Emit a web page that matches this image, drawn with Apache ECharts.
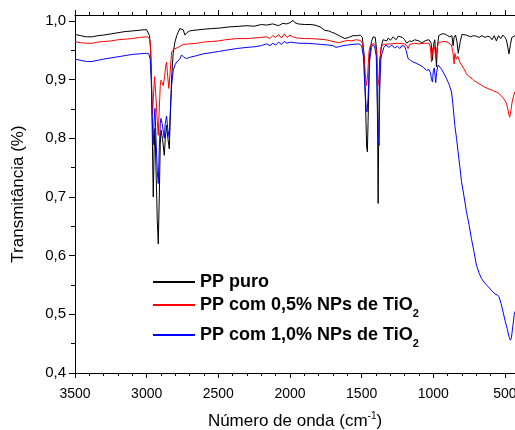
<!DOCTYPE html>
<html>
<head>
<meta charset="utf-8">
<script src="https://cdn.jsdelivr.net/npm/echarts@6/dist/echarts.min.js"></script>
<style>
  html, body { margin: 0; padding: 0; background: #fff; }
  #chart { width: 515px; height: 430px; }
</style>
</head>
<body>
<div id="chart"></div>
<script>
// [número de onda (cm-1), transmitância]
const ppPuro = [
  [3500,0.977],[3460,0.975],[3420,0.973],[3380,0.973],[3340,0.975],[3300,0.976],[3250,0.978],[3200,0.980],
  [3150,0.982],[3100,0.983],[3060,0.984],[3020,0.985],[3000,0.985],[2990,0.983],[2980,0.975],[2972,0.95],
  [2965,0.88],[2958,0.76],[2954,0.70],[2948,0.78],[2942,0.817],[2935,0.75],[2926,0.66],[2919,0.62],
  [2912,0.70],[2905,0.79],[2900,0.814],[2890,0.80],[2877,0.771],[2870,0.80],[2861,0.822],[2852,0.80],
  [2842,0.782],[2836,0.83],[2826,0.902],[2815,0.945],[2803,0.964],[2790,0.975],[2780,0.981],[2768,0.987],
  [2756,0.990],[2745,0.985],[2733,0.976],[2720,0.980],[2700,0.983],[2675,0.984],[2600,0.986],[2550,0.987],
  [2489,0.988],[2420,0.990],[2350,0.991],[2300,0.992],[2250,0.991],[2200,0.994],[2163,0.993],[2120,0.995],
  [2080,0.992],[2050,0.996],[2024,0.995],[2000,0.997],[1990,0.999],[1978,1.001],[1965,0.997],[1943,0.995],
  [1900,0.994],[1860,0.994],[1826,0.993],[1790,0.990],[1757,0.984],[1730,0.983],[1710,0.981],[1680,0.978],
  [1650,0.974],[1617,0.970],[1590,0.972],[1560,0.975],[1530,0.975],[1510,0.976],[1495,0.972],[1482,0.94],
  [1472,0.85],[1465,0.785],[1460,0.777],[1455,0.83],[1445,0.94],[1432,0.965],[1420,0.973],[1405,0.972],
  [1395,0.95],[1388,0.80],[1385,0.689],[1381,0.80],[1375,0.93],[1361,0.959],[1350,0.968],[1338,0.970],
  [1325,0.966],[1315,0.971],[1300,0.967],[1280,0.973],[1260,0.968],[1245,0.974],[1234,0.973],[1215,0.972],
  [1200,0.968],[1185,0.962],[1176,0.959],[1166,0.966],[1150,0.965],[1130,0.968],[1100,0.966],[1080,0.963],
  [1071,0.964],[1050,0.967],[1030,0.968],[1015,0.962],[1006,0.933],[998,0.960],[990,0.968],[983,0.945],
  [978,0.922],[972,0.955],[962,0.975],[955,0.977],[940,0.978],[920,0.978],[900,0.975],[885,0.973],
  [870,0.975],[862,0.958],[855,0.972],[845,0.976],[835,0.965],[826,0.945],[820,0.942],[812,0.965],
  [800,0.977],[792,0.978],[770,0.976],[740,0.973],[720,0.975],[699,0.974],[680,0.972],[660,0.975],
  [640,0.972],[620,0.974],[606,0.973],[590,0.968],[575,0.975],[560,0.966],[545,0.975],[530,0.970],
  [515,0.976],[500,0.972],[490,0.968],[480,0.955],[472,0.944],[462,0.96],[452,0.972],[444,0.97],[430,0.975]
];

const ppTio05 = [
  [3500,0.965],[3460,0.963],[3420,0.962],[3380,0.962],[3340,0.964],[3300,0.965],[3250,0.966],[3200,0.968],
  [3150,0.969],[3100,0.970],[3050,0.972],[3000,0.973],[2985,0.972],[2975,0.965],[2968,0.92],[2963,0.87],
  [2959,0.84],[2953,0.87],[2945,0.905],[2942,0.907],[2935,0.87],[2926,0.83],[2919,0.805],[2912,0.85],
  [2905,0.89],[2900,0.899],[2892,0.895],[2884,0.89],[2875,0.905],[2866,0.925],[2861,0.93],[2853,0.905],
  [2845,0.885],[2837,0.91],[2826,0.947],[2810,0.952],[2800,0.952],[2780,0.955],[2760,0.958],[2745,0.960],
  [2700,0.961],[2650,0.962],[2605,0.964],[2550,0.965],[2500,0.966],[2450,0.968],[2373,0.970],[2300,0.970],
  [2250,0.971],[2200,0.972],[2163,0.973],[2140,0.970],[2120,0.975],[2100,0.972],[2080,0.977],[2060,0.971],
  [2040,0.978],[2020,0.972],[2000,0.976],[1980,0.973],[1950,0.971],[1900,0.970],[1850,0.970],[1800,0.969],
  [1750,0.968],[1700,0.965],[1687,0.964],[1660,0.963],[1630,0.965],[1600,0.967],[1570,0.966],[1540,0.968],
  [1510,0.967],[1495,0.962],[1485,0.945],[1475,0.91],[1466,0.89],[1458,0.91],[1448,0.95],[1435,0.960],
  [1420,0.961],[1405,0.960],[1395,0.945],[1385,0.90],[1378,0.89],[1372,0.93],[1365,0.955],[1350,0.960],
  [1300,0.961],[1250,0.962],[1200,0.961],[1185,0.958],[1176,0.953],[1165,0.960],[1130,0.962],[1100,0.961],
  [1060,0.962],[1030,0.962],[1020,0.955],[1013,0.930],[1005,0.952],[995,0.958],[988,0.950],[983,0.936],
  [976,0.950],[965,0.963],[955,0.964],[930,0.965],[910,0.965],[890,0.962],[873,0.959],[862,0.945],
  [855,0.927],[850,0.945],[840,0.935],[830,0.940],[815,0.930],[800,0.924],[785,0.918],[769,0.910],
  [750,0.905],[730,0.902],[715,0.898],[699,0.896],[680,0.893],[660,0.890],[640,0.887],[629,0.886],
  [610,0.884],[590,0.882],[575,0.880],[559,0.879],[540,0.876],[525,0.872],[510,0.868],[500,0.866],
  [490,0.86],[480,0.850],[472,0.840],[467,0.836],[460,0.845],[450,0.862],[440,0.872],[430,0.880]
];

const ppTio10 = [
  [3500,0.935],[3460,0.933],[3420,0.931],[3380,0.931],[3340,0.933],[3300,0.935],[3250,0.937],[3200,0.939],
  [3150,0.941],[3100,0.943],[3050,0.944],[3000,0.945],[2985,0.944],[2975,0.935],[2968,0.90],[2962,0.84],
  [2956,0.80],[2954,0.789],[2948,0.83],[2942,0.851],[2935,0.80],[2926,0.745],[2919,0.723],[2912,0.78],
  [2905,0.825],[2900,0.834],[2892,0.825],[2884,0.822],[2877,0.80],[2870,0.825],[2861,0.838],[2852,0.815],
  [2842,0.80],[2836,0.84],[2826,0.89],[2815,0.915],[2803,0.925],[2790,0.930],[2770,0.935],[2756,0.942],
  [2740,0.938],[2722,0.936],[2700,0.938],[2650,0.941],[2605,0.944],[2550,0.946],[2500,0.948],[2450,0.950],
  [2373,0.953],[2300,0.955],[2250,0.956],[2200,0.958],[2163,0.961],[2140,0.958],[2120,0.962],[2100,0.959],
  [2080,0.964],[2060,0.960],[2040,0.965],[2020,0.962],[2000,0.964],[1970,0.963],[1930,0.962],[1880,0.962],
  [1826,0.961],[1780,0.960],[1730,0.959],[1700,0.958],[1680,0.955],[1660,0.956],[1630,0.958],[1600,0.959],
  [1560,0.960],[1520,0.961],[1500,0.958],[1488,0.94],[1478,0.89],[1468,0.85],[1462,0.845],[1455,0.87],
  [1445,0.93],[1432,0.955],[1424,0.959],[1410,0.957],[1398,0.94],[1390,0.86],[1384,0.80],[1378,0.788],
  [1374,0.88],[1366,0.935],[1361,0.942],[1345,0.955],[1330,0.959],[1310,0.955],[1290,0.959],[1270,0.954],
  [1250,0.957],[1234,0.953],[1220,0.958],[1200,0.957],[1190,0.950],[1176,0.936],[1160,0.933],[1141,0.930],
  [1120,0.928],[1094,0.925],[1070,0.921],[1048,0.916],[1030,0.917],[1020,0.912],[1012,0.900],[1006,0.896],
  [1000,0.915],[993,0.92],[987,0.905],[983,0.895],[977,0.912],[967,0.925],[955,0.922],[943,0.918],
  [925,0.910],[908,0.902],[890,0.892],[873,0.879],[862,0.855],[850,0.822],[838,0.80],[827,0.777],
  [815,0.752],[803,0.726],[785,0.70],[769,0.675],[750,0.652],[734,0.629],[715,0.605],[699,0.584],
  [680,0.570],[664,0.561],[640,0.553],[617,0.547],[595,0.541],[571,0.535],[555,0.533],[541,0.530],
  [527,0.518],[513,0.504],[500,0.49],[485,0.476],[472,0.462],[462,0.456],[455,0.46],[445,0.48],
  [435,0.50],[430,0.505]
];

const seriesNames = ['PP puro', 'PP com 0,5% NPs de TiO2', 'PP com 1,0% NPs de TiO2'];
const xMajor = [3500, 3000, 2500, 2000, 1500, 1000, 500];
const xMinor = [3400, 3300, 3200, 3100, 2900, 2800, 2700, 2600, 2400, 2300, 2200, 2100,
  1900, 1800, 1700, 1600, 1400, 1300, 1200, 1100, 900, 800, 700, 600];
const yMajor = [0.4, 0.5, 0.6, 0.7, 0.8, 0.9, 1.0];
const yMinor = [0.45, 0.55, 0.65, 0.75, 0.85, 0.95];

const chart = echarts.init(document.getElementById('chart'));

const FONT = '"Liberation Sans", Arial, sans-serif';
const X_MIN = 430, X_MAX = 3500, Y_MIN = 0.4, Y_MAX = 1.0102;

function xAxisDef(pos, values, len, showLine, showLabel, extra) {
  return Object.assign({
    type: 'value', position: pos, inverse: true, min: X_MIN, max: X_MAX,
    splitLine: { show: false },
    axisLine: { show: showLine, lineStyle: { color: '#000', width: 1 } },
    axisTick: { show: true, customValues: values, length: len, lineStyle: { color: '#000', width: 1 } },
    axisLabel: {
      show: showLabel, customValues: values, color: '#000', fontSize: 14, fontFamily: FONT, margin: 14,
      formatter: v => String(v)
    }
  }, extra || {});
}

function yAxisDef(values, len, showLine, showLabel, extra) {
  return Object.assign({
    type: 'value', position: 'left', min: Y_MIN, max: Y_MAX,
    splitLine: { show: false },
    axisLine: { show: showLine, lineStyle: { color: '#000', width: 1 } },
    axisTick: { show: true, customValues: values, length: len, lineStyle: { color: '#000', width: 1 } },
    axisLabel: {
      show: showLabel, customValues: values, color: '#000', fontSize: 15, fontFamily: FONT, margin: 9,
      formatter: v => v.toFixed(1).replace('.', ',')
    }
  }, extra || {});
}

function legendDef(name, top) {
  return {
    data: [name], left: 152, top: top, orient: 'vertical',
    itemWidth: 42, itemHeight: 14, itemGap: 0, padding: 0,
    itemStyle: { opacity: 0 },
    formatter: n => n.replace('TiO2', 'TiO{sub|2}'),
    textStyle: {
      color: '#000', fontSize: 18, fontWeight: 'bold', fontFamily: FONT, lineHeight: 20,
      rich: {
        sub: { fontSize: 11, fontWeight: 'bold', fontFamily: FONT, color: '#000',
          lineHeight: 11, verticalAlign: 'top', padding: [13, 0, 0, 0] }
      }
    }
  };
}

const option = {
  animation: false,
  backgroundColor: '#fff',
  textStyle: { fontFamily: FONT },
  grid: { left: 75, right: 0, top: 15, bottom: 57, containLabel: false, outerBoundsMode: 'none' },
  legend: [
    legendDef(seriesNames[0], 272),
    legendDef(seriesNames[1], 295),
    legendDef(seriesNames[2], 325)
  ],
  xAxis: [
    xAxisDef('bottom', xMajor, 5, true, true, {
      name: 'Número de onda (cm{sup|-1})',
      nameLocation: 'middle',
      nameGap: 38,
      nameTextStyle: {
        color: '#000', fontSize: 17, fontFamily: FONT, lineHeight: 20,
        rich: { sup: { fontSize: 10, fontFamily: FONT, color: '#000', lineHeight: 10, verticalAlign: 'top' } }
      }
    }),
    xAxisDef('bottom', xMinor, 3, false, false),
    xAxisDef('top', xMajor, 5, true, false),
    xAxisDef('top', xMinor, 3, false, false)
  ],
  yAxis: [
    yAxisDef(yMajor, 6, true, true, {
      name: 'Transmitância (%)',
      nameLocation: 'middle',
      nameGap: 48,
      nameTextStyle: { color: '#000', fontSize: 17, fontFamily: FONT }
    }),
    yAxisDef(yMinor, 4, false, false)
  ],
  series: [
    { name: seriesNames[0], type: 'line', data: ppPuro, color: '#000000' },
    { name: seriesNames[1], type: 'line', data: ppTio05, color: '#ff0000' },
    { name: seriesNames[2], type: 'line', data: ppTio10, color: '#0000ff' }
  ].map(s => Object.assign(s, {
    symbol: 'none', showSymbol: false, xAxisIndex: 0, yAxisIndex: 0,
    lineStyle: { width: 1, color: s.color }, emphasis: { disabled: true }
  }))
};

chart.setOption(option);
</script>
</body>
</html>
